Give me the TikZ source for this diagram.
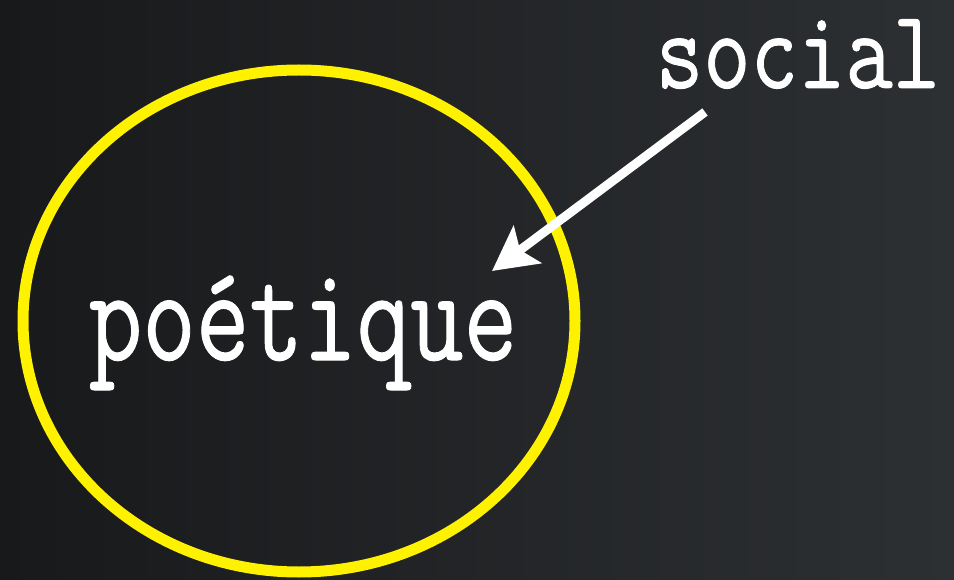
\documentclass[tikz,border=0pt]{standalone}
\usepackage{tikz}
\usepackage{graphicx}
\usepackage{fontspec}
\usetikzlibrary{arrows.meta,positioning,shapes.geometric}
\newfontfamily\slabtype[FakeBold=0.8]{Latin Modern Mono}
\definecolor{boardL}{HTML}{18191B}
\definecolor{boardR}{HTML}{2D3033}
\definecolor{ringY}{HTML}{FFF200}

\begin{document}
\begin{tikzpicture}[x=1pt,y=-1pt,word/.style={text=white,inner sep=0pt,anchor=base},ring/.style={ellipse,draw=ringY,line width=11pt,inner sep=0pt,minimum width=552pt,minimum height=502pt}]
\shade[left color=boardL,right color=boardR](0,0)rectangle(954,580);
\useasboundingbox(0,0)rectangle(954,580);
\node[ring](r)at(299,321){};
\node[word,font=\fontsize{104}{104}\slabtype](p)at(303,360){\scalebox{1}[1.3]{poétique}};
\node[word,font=\fontsize{92}{92}\slabtype](s)at(798,88){\scalebox{1}[1.22]{social}};
\coordinate(tail)at(705,112);
\coordinate(tip)at(492,271);
\draw[white,line width=9pt,-{Stealth[length=44pt,width=46pt,inset=9pt]}](tail)--(tip);
\end{tikzpicture}
\end{document}
